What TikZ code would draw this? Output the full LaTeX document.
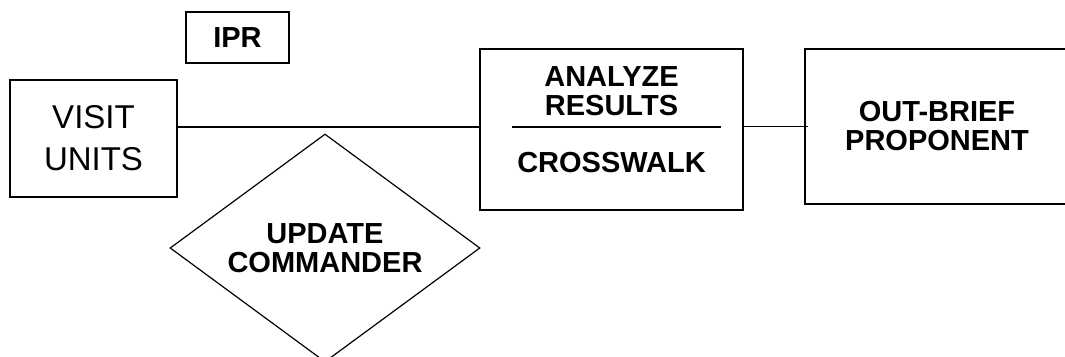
\documentclass[tikz,border=0pt]{standalone}
\usepackage{fontspec}
\setmainfont{Liberation Sans}
\usetikzlibrary{positioning}
\usetikzlibrary{shapes.geometric}
\usetikzlibrary{calc}

\begin{document}
\begin{tikzpicture}[x=1pt,y=-1pt,line width=1.2pt,
  box/.style={draw,rectangle,inner sep=0pt,align=center},
  bold/.style={font=\fontsize{29}{29}\selectfont\bfseries,align=center},
  plain/.style={font=\fontsize{33}{42}\selectfont,align=center}]
  \useasboundingbox (0,0) rectangle (1065,356);
  \node[box,bold,minimum width=103pt,minimum height=51pt] (ipr) at (237.5,37.5) {IPR};
  \node[box,plain,minimum width=167pt,minimum height=117pt] (visit) at (93.5,138.5) {VISIT\\UNITS};
  \node[box,minimum width=263pt,minimum height=161pt] (analyze) at (611.5,129.5) {};
  \node[bold] (results) at ($(analyze.north)+(0,42.5)$) {ANALYZE\\RESULTS};
  \node[bold] (crosswalk) at ($(analyze.south)+(0,-48)$) {CROSSWALK};
  \draw ($(analyze.west)+(33,-2.5)$) -- ($(analyze.east)+(-23,-2.5)$);
  \node[box,bold,minimum width=264pt,minimum height=155pt] (outbrief) at (937,126.5) {OUT-BRIEF\\PROPONENT};
  \node[draw,diamond,bold,inner sep=0pt,aspect=1.36,minimum width=310pt,minimum height=228pt] (update) at (325,248) {UPDATE\\COMMANDER};
  \coordinate (inlet) at ($(analyze.west)+(0,-2.5)$);
  \draw (visit.east |- inlet) -- (inlet);
  \draw (analyze.east |- outbrief.west) -- ([xshift=4pt]outbrief.west);
\end{tikzpicture}
\end{document}
